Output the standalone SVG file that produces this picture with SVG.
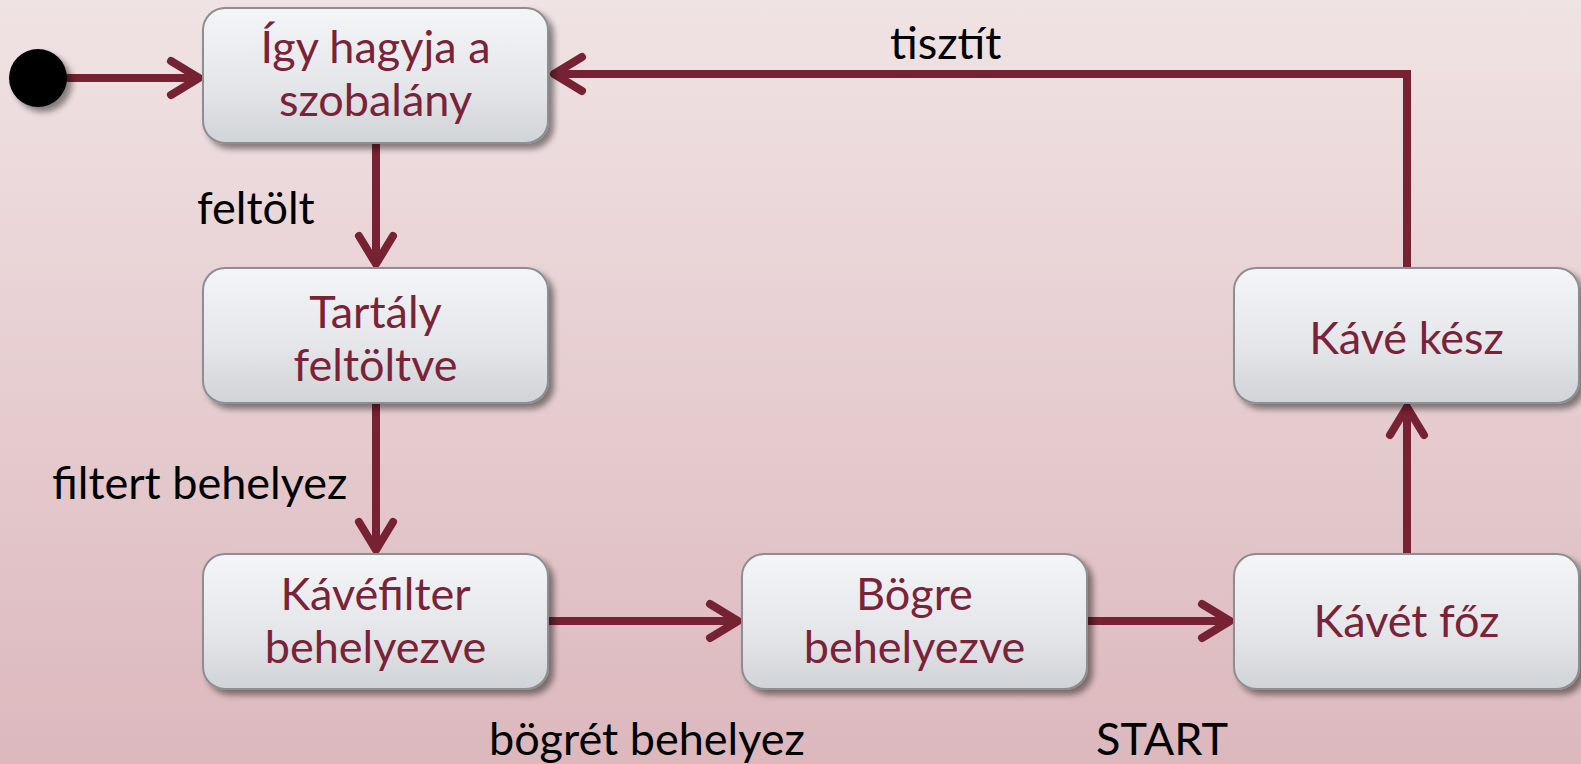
<svg xmlns="http://www.w3.org/2000/svg" width="1581" height="764" viewBox="0 0 1581 764">
  <defs>
    <linearGradient id="bg" x1="0" y1="0" x2="0" y2="1">
      <stop offset="0" stop-color="#f0e3e4"/>
      <stop offset="1" stop-color="#dcb8bd"/>
    </linearGradient>
    <linearGradient id="nodeFill" x1="0" y1="0" x2="0" y2="1">
      <stop offset="0" stop-color="#f3f5f7"/>
      <stop offset="0.6" stop-color="#e3e5e8"/>
      <stop offset="1" stop-color="#d0d3d7"/>
    </linearGradient>
    <filter id="shadow" x="-10%" y="-10%" width="130%" height="140%">
      <feGaussianBlur in="SourceAlpha" stdDeviation="3"/>
      <feOffset dx="5" dy="5" result="b"/>
      <feComponentTransfer><feFuncA type="linear" slope="0.45"/></feComponentTransfer>
      <feMerge><feMergeNode/><feMergeNode in="SourceGraphic"/></feMerge>
    </filter>
    <marker id="arrow" markerUnits="userSpaceOnUse" markerWidth="60" markerHeight="60" viewBox="-40 -30 60 60" refX="0" refY="0" orient="auto" overflow="visible">
      <path d="M -28 -17 L 0 0 L -28 17" fill="none" stroke="#772232" stroke-width="8" stroke-linecap="round" stroke-linejoin="round"/>
    </marker>
    <style>
      .node rect { fill: url(#nodeFill); stroke: #8c8f92; stroke-width: 2; filter: url(#shadow); }
      .node text { font-family: Lato, "Open Sans", sans-serif; font-size: 45px; fill: #7a2338; text-anchor: middle; }
      .edge { fill: none; stroke: #772232; stroke-width: 8; }
      .arrowed { marker-end: url(#arrow); }
      .label { font-family: Lato, "Open Sans", sans-serif; font-size: 45px; fill: #000; }
    </style>
  </defs>

  <rect x="0" y="0" width="1581" height="764" fill="url(#bg)"/>

  <!-- transitions -->
  <g id="connectors">
    <path class="edge arrowed" d="M 66 78 L 199 78"/>
    <path class="edge arrowed" d="M 376 143 L 376 264"/>
    <path class="edge arrowed" d="M 376 403 L 376 550"/>
    <path class="edge arrowed" d="M 548 621 L 738 621"/>
    <path class="edge arrowed" d="M 1087 621 L 1230 621"/>
    <path class="edge arrowed" d="M 1407 555 L 1407 407"/>
    <path class="edge arrowed" d="M 1407 269 L 1407 74 L 554 74"/>
  </g>

  <g id="labels">
    <text class="label" x="890" y="59">tisztít</text>
    <text class="label" x="197" y="224">feltölt</text>
    <text class="label" x="52" y="499">filtert behelyez</text>
    <text class="label" x="489" y="755">bögrét behelyez</text>
    <text class="label" x="1096" y="755">START</text>
  </g>

  <!-- initial pseudo-state -->
  <g id="start">
    <circle cx="38" cy="78" r="29" fill="#000" filter="url(#shadow)"/>
  </g>

  <g id="node-igy" class="node">
    <rect x="203" y="8" width="345" height="135" rx="22"/>
    <text x="375.5" y="63">Így hagyja a</text>
    <text x="375.5" y="116">szobalány</text>
  </g>

  <g id="node-tartaly" class="node">
    <rect x="203" y="268" width="345" height="135" rx="22"/>
    <text x="375.5" y="328">Tartály</text>
    <text x="375.5" y="381">feltöltve</text>
  </g>

  <g id="node-filter" class="node">
    <rect x="203" y="554" width="345" height="135" rx="22"/>
    <text x="375.5" y="610">Kávéfilter</text>
    <text x="375.5" y="663">behelyezve</text>
  </g>

  <g id="node-bogre" class="node">
    <rect x="742" y="554" width="345" height="135" rx="22"/>
    <text x="914.5" y="610">Bögre</text>
    <text x="914.5" y="663">behelyezve</text>
  </g>

  <g id="node-fozes" class="node">
    <rect x="1234" y="554" width="345" height="135" rx="22"/>
    <text x="1406.5" y="637">Kávét főz</text>
  </g>

  <g id="node-kesz" class="node">
    <rect x="1234" y="268" width="345" height="135" rx="22"/>
    <text x="1406.5" y="354">Kávé kész</text>
  </g>
</svg>
